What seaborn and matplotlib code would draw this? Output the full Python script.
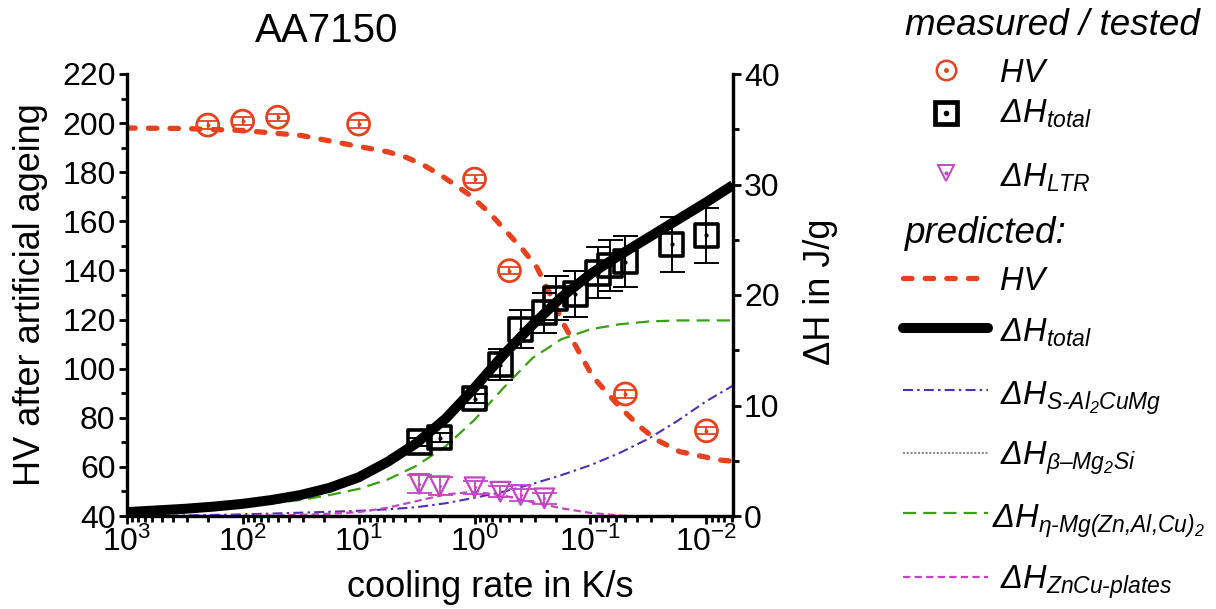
import matplotlib
matplotlib.use("Agg")
import matplotlib.pyplot as plt
from matplotlib.lines import Line2D
from matplotlib.ticker import LogLocator, MultipleLocator, NullFormatter
import numpy as np
import seaborn as sns

# ---------------- measured data ----------------
hv_rate = [200, 100, 50, 10, 1, 0.5, 0.05, 0.01]
hv_meas = [199.2, 200.8, 202.4, 199.6, 177.2, 139.9, 89.7, 74.7]
hv_err = [1.5, 1.5, 1.5, 1.5, 1.5, 1.5, 1.5, 1.5]

dh_rate = [3, 2, 1, 0.6, 0.4, 0.25, 0.2, 0.135, 0.086, 0.068, 0.05, 0.02, 0.01]
dh_total = [6.7, 7.1, 10.6, 13.7, 16.9, 18.4, 19.7, 20.1, 22.0, 22.7, 23.0, 24.6, 25.4]
dh_total_err = [0.4, 0.4, 0.4, 1.4, 1.7, 1.8, 2.0, 2.1, 2.3, 2.3, 2.3, 2.5, 2.5]

ltr_rate = [3, 2, 1, 0.6, 0.4, 0.25]
dh_ltr = [2.9, 2.7, 2.6, 2.2, 1.9, 1.6]
dh_ltr_err = [0.8, 0.8, 0.6, 0.5, 0.5, 0.5]

# ---------------- model predictions ----------------
hv_model_rate = [1000, 316, 100, 31.6, 10, 5.6, 3.86, 2.77, 1.87, 1.1, 0.738, 0.53,
                 0.381, 0.292, 0.232, 0.172, 0.124, 0.0955, 0.0562, 0.0376, 0.0269,
                 0.017, 0.0077, 0.0059]
hv_model = [198.0, 197.8, 197.0, 195.0, 190.5, 188.3, 186.0, 183.0, 178.2, 170.7, 163.3,
            155.8, 148.3, 141.5, 132.0, 118.5, 106.3, 96.7, 84.5, 76.4, 71.0, 66.2,
            62.8, 62.3]

model_rate = [1000, 562, 316, 178, 100, 56.2, 31.6, 17.8, 10, 5.62, 3.16, 1.78, 1.0,
              0.562, 0.316, 0.178, 0.1, 0.0562, 0.0316, 0.0178, 0.01, 0.0059]
dh_total_model = [0.35, 0.5, 0.65, 0.85, 1.1, 1.45, 1.9, 2.55, 3.5, 4.9, 6.6, 8.8, 11.6,
                  14.6, 17.3, 19.8, 21.9, 23.6, 25.2, 26.8, 28.4, 29.95]
dh_s_model = [0.0, 0.02, 0.05, 0.1, 0.15, 0.22, 0.3, 0.38, 0.47, 0.6, 0.8, 1.15, 1.65,
              2.2, 2.9, 3.7, 4.6, 5.7, 7.0, 8.6, 10.4, 11.8]
dh_eta_model = [0.25, 0.35, 0.5, 0.68, 0.9, 1.15, 1.45, 1.9, 2.45, 3.3, 4.55, 6.3, 8.7,
                11.6, 14.3, 16.0, 16.9, 17.35, 17.6, 17.7, 17.7, 17.7]
zncu_rate = [1000, 316, 100, 56.2, 31.6, 17.8, 10, 5.62, 3.16, 1.78, 1.0, 0.562, 0.316,
             0.178, 0.1, 0.0562, 0.045]
dh_zncu_model = [0.0, 0.0, 0.02, 0.05, 0.1, 0.2, 0.35, 0.75, 1.35, 1.95, 2.2, 1.85,
                 1.25, 0.7, 0.28, 0.05, 0.0]

x_ticks = [1e3, 1e2, 1e1, 1e0, 1e-1, 1e-2]

# ---------------- colours ----------------
RED = "#E8411E"
GREEN = "#3AA012"
INDIGO = "#5030B4"
MAGENTA = "#C445C4"
GREY = "#8C8C8C"

sns.set_theme(style="ticks")
plt.rcParams["font.family"] = ["Liberation Sans", "DejaVu Sans"]
plt.rcParams["mathtext.fontset"] = "custom"
plt.rcParams["mathtext.it"] = "Liberation Sans:italic"
plt.rcParams["mathtext.rm"] = "Liberation Sans:italic"
plt.rcParams["mathtext.sf"] = "Liberation Sans:italic"
plt.rcParams["axes.unicode_minus"] = False
for key in ("text.color", "axes.labelcolor", "xtick.color", "ytick.color",
            "axes.edgecolor"):
    plt.rcParams[key] = "black"

W, H = 1216, 609
fig = plt.figure(figsize=(W / 100, H / 100), dpi=100)
fig.patch.set_facecolor("white")
L, R, T, B = 126.7, 733.0, 74.0, 516.0
ax = fig.add_axes([L / W, 1 - B / H, (R - L) / W, (B - T) / H])
ax2 = ax.twinx()
ax.set_facecolor("white")

# ----- hardness (left axis) -----
sns.lineplot(x=hv_model_rate, y=hv_model, ax=ax, color=RED, lw=3.8,
             linestyle=(0, (1.6, 2.5)), dash_capstyle="round", sort=False)
ax.errorbar(hv_rate, hv_meas, yerr=hv_err, fmt="none", ecolor=RED, elinewidth=1.3,
            capsize=7, capthick=1.3, zorder=3)
sns.scatterplot(x=hv_rate, y=hv_meas, ax=ax, marker="o", s=250, facecolor="none",
                edgecolor=RED, linewidth=2.0, zorder=4)
sns.scatterplot(x=hv_rate, y=hv_meas, ax=ax, marker="o", s=8, color=RED,
                edgecolor=RED, linewidth=0, zorder=5)

# ----- enthalpies (right axis) -----
sns.lineplot(x=model_rate, y=dh_eta_model, ax=ax2, color=GREEN, lw=1.6,
             linestyle=(0, (5.9, 3.2)), sort=False)
sns.lineplot(x=model_rate, y=dh_s_model, ax=ax2, color=INDIGO, lw=1.5,
             linestyle=(0, (4.8, 2.0, 1.2, 2.0)), sort=False)
sns.lineplot(x=zncu_rate, y=dh_zncu_model, ax=ax2, color=MAGENTA, lw=1.6,
             linestyle=(0, (3.3, 1.9)), sort=False)
sns.lineplot(x=model_rate, y=dh_total_model, ax=ax2, color="black", lw=7.2,
             solid_capstyle="butt", solid_joinstyle="round", sort=False)

ax2.errorbar(dh_rate, dh_total, yerr=dh_total_err, fmt="none", ecolor="black",
             elinewidth=1.4, capsize=9, capthick=1.4, zorder=3)
sns.scatterplot(x=dh_rate, y=dh_total, ax=ax2, marker="s", s=280, facecolor="none",
                edgecolor="black", linewidth=2.6, zorder=4)
sns.scatterplot(x=dh_rate, y=dh_total, ax=ax2, marker="o", s=9, color="black",
                linewidth=0, zorder=5)

ax2.errorbar(ltr_rate, dh_ltr, yerr=dh_ltr_err, fmt="none", ecolor=MAGENTA,
             elinewidth=1.3, capsize=9, capthick=1.3, zorder=3)
sns.scatterplot(x=ltr_rate, y=dh_ltr, ax=ax2, marker="v", s=200, facecolor="none",
                edgecolor=MAGENTA, linewidth=1.6, zorder=4)
sns.scatterplot(x=ltr_rate, y=dh_ltr, ax=ax2, marker="o", s=5, color=MAGENTA,
                linewidth=0, zorder=5)

# ----- axes styling -----
ax.set_xscale("log")
ax.set_xlim(1000, 0.0059)
ax.set_ylim(40, 220)
ax2.set_ylim(0, 40)

ax.set_xticks(x_ticks)
ax.xaxis.set_minor_locator(LogLocator(base=10, subs=np.arange(2, 10)))
ax.xaxis.set_minor_formatter(NullFormatter())
ax.yaxis.set_major_locator(MultipleLocator(20))
ax.yaxis.set_minor_locator(MultipleLocator(10))
ax2.yaxis.set_major_locator(MultipleLocator(10))
ax2.yaxis.set_minor_locator(MultipleLocator(5))

for a in (ax, ax2):
    for side in ("left", "right", "bottom", "top"):
        a.spines[side].set_linewidth(2.3)
        a.spines[side].set_color("black")
    a.spines["top"].set_visible(False)
    a.tick_params(which="major", length=6, width=2.0, labelsize=23, pad=2,
                  color="black", labelcolor="black")
    a.tick_params(which="minor", length=4, width=2.0, color="black")
    a.grid(False)
ax.tick_params(axis="y", which="both", right=False)
ax.tick_params(axis="x", which="both", top=False)

ax.set_xlabel("cooling rate in K/s", fontsize=26, va="center")
ax.xaxis.set_label_coords(0.599, -0.162)
ax.set_ylabel("HV after artificial ageing", fontsize=26, va="center")
ax.yaxis.set_label_coords(-0.158, 0.5)
ax2.set_ylabel("ΔH in J/g", fontsize=26, va="center", rotation=90)
ax2.yaxis.set_label_coords(1.1435, 0.507)
ax.text(0.33, 1.098, "AA7150", transform=ax.transAxes, fontsize=29,
        ha="center", va="center")


# ----- legend block on the right -----
def fx(px):
    return px / W


def fy(py):
    return 1 - py / H


def key_text(px, baseline, s, size=23.5):
    fig.text(fx(px), fy(baseline), s, fontsize=size, fontstyle="italic",
             ha="left", va="baseline")


fig.text(fx(905), fy(35), "measured / tested", fontsize=26.5, fontstyle="italic",
         ha="left", va="baseline")
fig.text(fx(905), fy(243), "predicted:", fontsize=26.5, fontstyle="italic",
         ha="left", va="baseline")

mk_x = 946
fig.add_artist(Line2D([fx(mk_x)], [fy(70)], marker="o", ms=14, mfc="none", mec=RED,
                      mew=1.8, transform=fig.transFigure))
fig.add_artist(Line2D([fx(mk_x)], [fy(70)], marker="o", ms=2.5, mfc=RED, mec=RED,
                      transform=fig.transFigure))
fig.add_artist(Line2D([fx(mk_x)], [fy(113)], marker="s", ms=15.5, mfc="none", mec="black",
                      mew=3.4, transform=fig.transFigure))
fig.add_artist(Line2D([fx(mk_x)], [fy(113)], marker="o", ms=3, mfc="black", mec="black",
                      transform=fig.transFigure))
fig.add_artist(Line2D([fx(mk_x)], [fy(173)], marker="v", ms=12, mfc="none", mec=MAGENTA,
                      mew=1.4, transform=fig.transFigure))
fig.add_artist(Line2D([fx(mk_x)], [fy(173)], marker="o", ms=2, mfc=MAGENTA, mec=MAGENTA,
                      transform=fig.transFigure))

key_text(1000, 82, "HV")
key_text(1000, 123, r"$ΔH_{total}$")
key_text(1000, 187, r"$ΔH_{LTR}$")

line_keys = [
    (278, 290, 1000,
     dict(color=RED, lw=3.8, linestyle=(0, (1.6, 2.5)), dash_capstyle="round"), "HV"),
    (328, 342, 1000, dict(color="black", lw=7.2, solid_capstyle="round"),
     r"$ΔH_{total}$"),
    (390, 405, 1000, dict(color=INDIGO, lw=1.5, linestyle=(0, (4.8, 2.0, 1.2, 2.0))),
     r"$ΔH_{S‐Al_2CuMg}$"),
    (453, 465, 1000, dict(color=GREY, lw=1.5, linestyle=(0, (1.0, 0.8))),
     r"$ΔH_{β–Mg_2Si}$"),
    (513, 528, 992, dict(color=GREEN, lw=1.6, linestyle=(0, (5.9, 3.2))),
     r"$ΔH_{η‐Mg(Zn{,}Al{,}Cu)_2}$"),
    (577, 589, 1000, dict(color=MAGENTA, lw=1.6, linestyle=(0, (3.3, 1.9))),
     r"$ΔH_{ZnCu‐plates}$"),
]
for py, base, tx, style, label in line_keys:
    fig.add_artist(Line2D([fx(903), fx(988)], [fy(py), fy(py)],
                          transform=fig.transFigure, **style))
    key_text(tx, base, label)

fig.savefig("out.png", dpi=100, facecolor="white")
